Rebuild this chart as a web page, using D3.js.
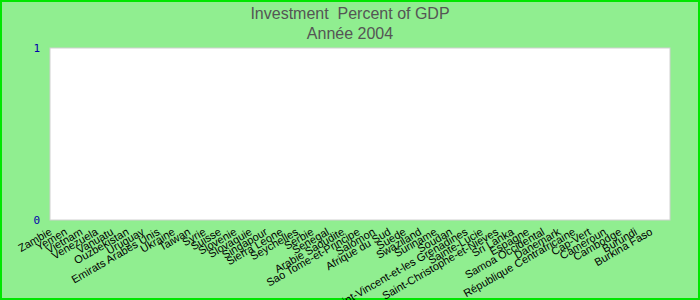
<!DOCTYPE html>
<html><head><meta charset="utf-8">
<script src="https://cdn.jsdelivr.net/npm/d3@7"></script>
<style>body{margin:0;}svg{display:block;}</style>
</head><body>
<script>
const categories = ["Zambie","Yemen","Vietnam","Venezuela","Vanuatu","Ouzbekistan","Uruguay","Emirats Arabes Unis","Ukraine","Taiwan","Syrie","Suisse","Slovenie","Slovaquie","Singapour","Sierra Leone","Seychelles","Serbie","Senegal","Arabie Saoudite","Sao Tome-et-Principe","Salomon","Afrique du Sud","Suede","Swaziland","Suriname","Soudan","Saint-Vincent-et-les Grenadines","Sainte-Lucie","Saint-Christophe-et-Nieves","Sri Lanka","Espagne","Samoa Occidental","Danemark","République Centrafricaine","Cap-Vert","Cameroun","Cambodge","Burundi","Burkina Faso"];
const values = categories.map(() => 0);
const yTicks = [0, 1];
const titleLines = ["Investment  Percent of GDP", "Année 2004"];

const W = 700, H = 300;
const m = {left: 50, right: 30, top: 48, bottom: 80};
const svg = d3.select("body").append("svg").attr("width", W).attr("height", H);
svg.append("rect").attr("x", 1).attr("y", 1).attr("width", W - 2).attr("height", H - 2)
  .attr("fill", "#90EE90").attr("stroke", "#00e600").attr("stroke-width", 2);

svg.selectAll("text.title").data(titleLines).join("text")
  .attr("x", W / 2).attr("y", (d, i) => 19 + i * 20)
  .attr("text-anchor", "middle").attr("fill", "#555")
  .style("font-family", "Liberation Sans, Arial, sans-serif").style("font-size", "16px")
  .style("white-space", "pre").text(d => d);

const x = d3.scaleBand().domain(categories).range([m.left, 666]);
const y = d3.scaleLinear().domain([0, 1]).range([H - m.bottom, m.top]);

svg.append("rect").attr("x", m.left).attr("y", m.top)
  .attr("width", W - m.left - m.right).attr("height", H - m.top - m.bottom)
  .attr("fill", "#fff").attr("stroke", "#d0d0d0");

svg.append("g").selectAll("rect").data(values).join("rect")
  .attr("x", (d, i) => x(categories[i]) + 2).attr("width", x.bandwidth() - 4)
  .attr("y", d => y(d)).attr("height", d => y(0) - y(d)).attr("fill", "#4a7ebb");

const ya = svg.append("g").attr("transform", `translate(${m.left},0)`)
  .call(d3.axisLeft(y).tickValues(yTicks).tickFormat(d3.format("d")).tickSize(0).tickPadding(10));
ya.select(".domain").remove();
ya.selectAll("text").attr("fill", "#0000aa")
  .style("font-family", "DejaVu Sans Mono, monospace").style("font-size", "11px");

const xa = svg.append("g").attr("transform", `translate(0,${H - m.bottom})`)
  .call(d3.axisBottom(x).tickSize(0).tickPadding(0));
xa.select(".domain").remove();
xa.selectAll("text")
  .attr("text-anchor", "end").attr("fill", "#000")
  .style("font-family", "Liberation Sans, Arial, sans-serif").style("font-size", "11px")
  .attr("transform", "translate(-5,14) rotate(-30)").attr("dy", 0).attr("y", 0);
</script>
</body></html>
